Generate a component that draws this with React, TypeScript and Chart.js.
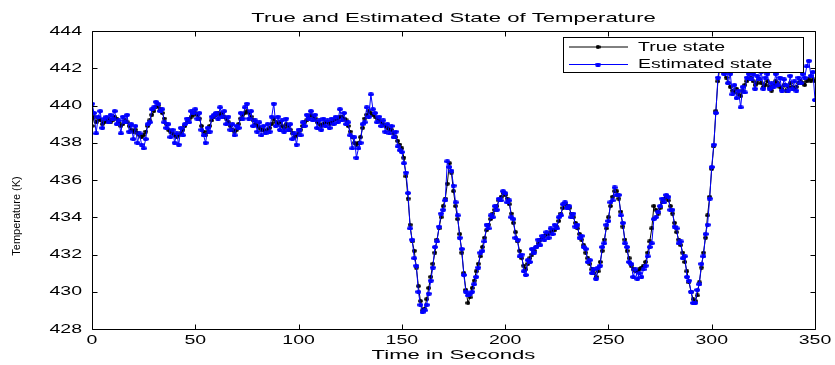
import React, { useEffect, useRef } from 'react';
import { Chart, registerables } from 'chart.js';

Chart.register(...registerables);

const TITLE = 'True and Estimated State of Temperature';
const X_LABEL = 'Time in Seconds';
const Y_LABEL = 'Temperature (K)';
const SERIES_NAMES = ['True state', 'Estimated state'];
const X_TICKS = [0, 50, 100, 150, 200, 250, 300, 350];
const Y_TICKS = [428, 430, 432, 434, 436, 438, 440, 442, 444];
const TIME_START = 0;
const TIME_STEP = 1;

const TRUE_STATE = [
  438.9, 439.4, 439.1, 439.3, 439.2, 439.0, 439.1, 439.2, 439.3, 439.1,
  439.2, 439.4, 439.3, 439.1, 438.9, 439.0, 439.2, 439.1, 438.9, 438.7,
  438.6, 438.7, 438.5, 438.4, 438.3, 438.4, 438.6, 438.9, 439.2, 439.5,
  439.7, 439.9, 440.0, 439.8, 439.6, 439.3, 439.0, 438.7, 438.6, 438.5,
  438.4, 438.3, 438.4, 438.5, 438.7, 438.9, 439.1, 439.3, 439.4, 439.5,
  439.6, 439.5, 439.3, 438.9, 438.6, 438.4, 438.6, 438.9, 439.2, 439.4,
  439.5, 439.6, 439.5, 439.6, 439.4, 439.3, 439.1, 438.9, 438.7, 438.6,
  438.7, 439.0, 439.3, 439.5, 439.6, 439.7, 439.6, 439.4, 439.2, 439.0,
  438.9, 438.8, 438.7, 438.7, 438.6, 438.7, 438.8, 439.0, 439.3, 439.1,
  439.0, 439.1, 438.9, 438.8, 439.0, 438.9, 438.7, 438.5, 438.3, 438.4,
  438.5, 438.7, 438.9, 439.1, 439.2, 439.4, 439.5, 439.4, 439.3, 439.1,
  439.0, 438.9, 439.0, 439.1, 439.1, 439.0, 439.1, 439.2, 439.3, 439.3,
  439.4, 439.4, 439.3, 439.2, 438.9, 438.6, 438.3, 438.0, 437.9, 438.0,
  438.3, 438.8, 439.3, 439.5, 439.7, 439.6, 439.5, 439.4, 439.3, 439.2,
  439.1, 439.0, 438.9, 438.8, 438.7, 438.7, 438.5, 438.3, 438.1, 437.9,
  437.7, 437.2, 436.2, 435.0, 433.6, 432.7, 432.2, 431.3, 430.3, 429.5,
  429.0, 429.1, 429.6, 430.2, 430.8, 431.5, 432.1, 432.8, 433.4, 434.0,
  434.6, 435.0, 435.8, 436.9, 436.4, 435.4, 434.6, 433.9, 433.1, 432.1,
  431.0, 430.1, 429.4, 429.7, 430.2, 430.6, 431.1, 431.5, 431.9, 432.4,
  432.9, 433.3, 433.6, 433.9, 434.2, 434.4, 434.6, 434.9, 435.1, 435.3,
  435.2, 435.0, 434.7, 434.2, 433.7, 433.2, 432.7, 432.2, 431.8, 431.4,
  431.2, 431.5, 431.8, 432.0, 432.2, 432.4, 432.6, 432.8, 432.9, 433.0,
  433.1, 433.1, 433.2, 433.3, 433.3, 433.5, 433.8, 434.2, 434.5, 434.7,
  434.6, 434.5, 434.2, 434.0, 433.7, 433.4, 433.1, 432.8, 432.5, 432.1,
  431.8, 431.5, 431.2, 431.0, 430.8, 431.1, 431.6, 432.2, 432.8, 433.4,
  434.0, 434.6, 435.1, 435.4, 435.4, 435.0, 434.3, 433.5, 432.8, 432.2,
  431.8, 431.4, 431.2, 431.1, 431.1, 431.2, 431.3, 431.4, 431.6, 432.1,
  432.7, 433.4, 434.6, 434.4, 434.2, 434.5, 434.8, 435.0, 435.1, 434.9,
  434.6, 434.2, 433.7, 433.2, 432.8, 432.5, 432.1, 431.6, 431.1, 430.5,
  430.0, 429.6, 429.5, 429.8, 430.5, 431.3, 432.1, 432.9, 434.1, 435.1,
  436.6, 437.8, 439.7, 441.3, 442.1, 442.1, 441.8, 441.5, 441.2, 441.0,
  440.8, 440.7, 440.9, 440.6, 440.5, 440.8, 441.1, 441.3, 441.4, 441.5,
  441.3, 441.1, 441.2, 441.4, 441.2, 441.0, 441.1, 441.3, 441.0, 440.8,
  441.1, 441.3, 441.2, 441.0, 440.9, 441.1, 440.8, 441.0, 441.2, 441.0,
  440.9, 441.0, 441.2, 441.3, 441.2, 441.1, 441.3, 441.4, 441.3, 441.4,
  441.3,
];

const ESTIMATED_STATE = [
  440.1, 439.6, 438.5, 439.4, 439.7, 438.8, 439.3, 439.4, 439.1, 439.5,
  439.3, 439.7, 439.0, 439.2, 438.5, 439.4, 439.1, 439.5, 438.6, 439.0,
  438.2, 438.9, 438.0, 438.5, 437.9, 437.7, 438.2, 439.0, 439.1, 439.8,
  439.9, 440.2, 440.1, 439.7, 439.8, 439.1, 438.8, 439.0, 438.3, 438.7,
  438.0, 438.5, 437.9, 438.8, 438.4, 439.0, 439.3, 439.1, 439.7, 439.6,
  439.8, 439.3, 439.6, 438.7, 438.4, 438.0, 438.8, 438.6, 439.4, 439.5,
  439.6, 439.3, 439.9, 439.4, 439.7, 439.0, 439.4, 438.7, 439.0, 438.4,
  438.9, 438.8, 439.6, 439.3, 439.9, 440.1, 439.3, 439.7, 438.9, 439.2,
  438.6, 439.1, 438.4, 438.9, 438.5, 439.0, 438.6, 439.4, 440.1, 438.9,
  439.4, 438.7, 439.2, 438.6, 439.3, 438.7, 439.0, 438.2, 438.5, 437.9,
  438.7, 438.4, 439.1, 438.9, 439.5, 439.3, 439.7, 439.2, 439.5, 438.8,
  439.2, 438.7, 439.3, 438.9, 439.2, 438.8, 439.3, 439.0, 439.4, 439.1,
  439.8, 439.2, 439.6, 439.0, 439.1, 438.4, 437.7, 438.3, 437.2, 437.7,
  438.0, 439.0, 439.1, 439.9, 439.4, 440.6, 439.8, 439.6, 439.1, 439.4,
  438.9, 439.2, 438.6, 439.0, 438.5, 438.9, 438.3, 438.6, 437.8, 437.6,
  437.5, 436.9, 436.4, 435.3, 433.4, 432.8, 431.8, 431.4, 430.0, 429.3,
  428.9, 429.0, 429.3, 429.9, 430.6, 431.3, 432.4, 432.7, 433.5, 434.2,
  434.4, 434.9, 437.0, 436.7, 436.5, 435.7, 434.8, 434.1, 432.9, 432.3,
  430.9, 430.0, 429.8, 429.9, 430.0, 430.4, 430.8, 431.3, 432.1, 432.2,
  432.7, 433.6, 433.4, 434.1, 434.0, 434.6, 434.4, 435.0, 434.9, 435.4,
  435.3, 434.8, 434.9, 434.0, 433.9, 432.9, 432.8, 431.9, 432.0, 431.1,
  430.9, 431.7, 431.6, 432.3, 432.1, 432.4, 432.8, 432.5, 433.0, 432.8,
  433.2, 432.9, 433.4, 433.1, 433.6, 433.4, 434.0, 434.1, 434.7, 434.8,
  434.5, 434.6, 434.0, 434.2, 433.5, 433.6, 432.9, 433.0, 432.4, 432.3,
  431.6, 431.7, 431.0, 431.2, 430.7, 431.3, 431.4, 432.4, 432.6, 433.6,
  433.8, 434.8, 434.9, 435.6, 435.2, 435.2, 434.1, 433.7, 432.6, 432.4,
  431.6, 431.5, 430.8, 431.2, 430.7, 431.0, 430.8, 431.2, 431.4, 431.9,
  432.4, 432.6, 433.9, 434.0, 434.3, 434.6, 435.0, 434.8, 435.2, 435.1,
  434.4, 434.4, 433.5, 433.4, 432.6, 432.7, 431.8, 431.9, 430.8, 430.6,
  430.0, 429.4, 429.4, 430.1, 430.4, 431.5, 431.9, 433.1, 433.6, 435.0,
  436.7, 437.9, 439.6, 441.5, 442.3, 442.1, 441.7, 442.0, 441.2, 441.7,
  440.6, 441.1, 440.4, 440.8, 439.9, 441.0, 440.7, 441.5, 441.7, 441.4,
  441.7, 440.9, 441.6, 441.4, 441.8, 440.9, 441.5, 441.7, 440.9, 441.2,
  441.0, 441.7, 441.1, 441.5, 440.8, 441.4, 441.1, 440.8, 441.6, 440.9,
  441.3, 440.8, 441.5, 441.2, 441.7, 441.5, 442.1, 442.4, 441.6, 441.8,
  440.3,
];

const TIME = TRUE_STATE.map((_, i) => TIME_START + i * TIME_STEP);

const FONT = '"Liberation Sans", Arial, Helvetica, sans-serif';

function makeDot(color: string, w: number, h: number) {
  const c = document.createElement('canvas');
  c.width = w;
  c.height = h;
  const g = c.getContext('2d')!;
  g.fillStyle = color;
  g.beginPath();
  g.ellipse(w / 2, h / 2, w / 2, h / 2, 0, 0, Math.PI * 2);
  g.fill();
  return c;
}

function drawText(
  ctx: CanvasRenderingContext2D,
  s: string,
  x: number,
  y: number,
  align: CanvasTextAlign,
  size: number,
  sx: number
) {
  ctx.save();
  ctx.translate(x, y);
  ctx.scale(sx, 1);
  ctx.font = `${size}px ${FONT}`;
  ctx.fillStyle = '#000';
  ctx.textAlign = align;
  ctx.textBaseline = 'middle';
  ctx.fillText(s, 0, 0);
  ctx.restore();
}

export default function App() {
  const ref = useRef<HTMLCanvasElement>(null);

  useEffect(() => {
    if (!ref.current) return;
    const blackDot = makeDot('#000000', 5, 4);
    const blueDot = makeDot('#0000ff', 6, 4);

    const decor = {
      id: 'matlabDecor',
      afterDraw(chart: any) {
        const ctx: CanvasRenderingContext2D = chart.ctx;
        const { left, right, top, bottom } = chart.chartArea;
        const xs = chart.scales.x;
        const ys = chart.scales.y;
        ctx.save();
        ctx.strokeStyle = '#000';
        ctx.lineWidth = 1;
        const L = Math.round(left) + 0.5;
        const R = Math.round(right) + 0.5;
        const T = Math.round(top) + 0.5;
        const B = Math.round(bottom) + 0.5;
        ctx.beginPath();
        ctx.rect(L, T, R - L, B - T);
        ctx.stroke();
        const tl = 5;
        ctx.beginPath();
        X_TICKS.forEach((v) => {
          const px = Math.round(xs.getPixelForValue(v)) + 0.5;
          ctx.moveTo(px, B);
          ctx.lineTo(px, B - tl);
          ctx.moveTo(px, T);
          ctx.lineTo(px, T + tl);
        });
        Y_TICKS.forEach((v) => {
          const py = Math.round(ys.getPixelForValue(v)) + 0.5;
          ctx.moveTo(L, py);
          ctx.lineTo(L + tl, py);
          ctx.moveTo(R, py);
          ctx.lineTo(R - tl, py);
        });
        ctx.stroke();

        X_TICKS.forEach((v) => {
          drawText(ctx, String(v), xs.getPixelForValue(v), bottom + 11, 'center', 13, 1.5);
        });
        Y_TICKS.forEach((v) => {
          drawText(ctx, String(v), left - 10, ys.getPixelForValue(v), 'right', 13, 1.5);
        });

        drawText(ctx, TITLE, (left + right) / 2, 18, 'center', 13, 1.7);
        drawText(ctx, X_LABEL, (left + right) / 2, 355, 'center', 13, 1.7);

        ctx.save();
        ctx.translate(17, 216);
        ctx.rotate(-Math.PI / 2);
        ctx.font = `11px ${FONT}`;
        ctx.fillStyle = '#000';
        ctx.textAlign = 'center';
        ctx.textBaseline = 'middle';
        ctx.fillText(Y_LABEL, 0, 0);
        ctx.restore();

        // legend
        const lx = 563.5, ly = 37.5, lw = 240, lh = 35;
        ctx.fillStyle = '#fff';
        ctx.fillRect(lx, ly, lw, lh);
        ctx.strokeStyle = '#000';
        ctx.strokeRect(lx, ly, lw, lh);
        const rows = [
          { name: SERIES_NAMES[0], color: '#000000', dot: blackDot, y: 47 },
          { name: SERIES_NAMES[1], color: '#0000ff', dot: blueDot, y: 64.5 },
        ];
        rows.forEach((r) => {
          ctx.strokeStyle = r.color;
          ctx.lineWidth = 1;
          ctx.beginPath();
          ctx.moveTo(569, r.y);
          ctx.lineTo(628, r.y);
          ctx.stroke();
          ctx.drawImage(r.dot, 598 - r.dot.width / 2, r.y - r.dot.height / 2);
          drawText(ctx, r.name, 638, r.y, 'left', 13, 1.5);
        });
        ctx.restore();
      },
    };

    const chart = new Chart(ref.current, {
      type: 'line',
      data: {
        labels: TIME,
        datasets: [
          {
            label: SERIES_NAMES[1],
            data: ESTIMATED_STATE,
            borderColor: '#0000ff',
            backgroundColor: '#0000ff',
            borderWidth: 1,
            pointStyle: blueDot as any,
            pointRadius: 3,
            tension: 0,
            order: 0,
          },
          {
            label: SERIES_NAMES[0],
            data: TRUE_STATE,
            borderColor: '#000000',
            backgroundColor: '#000000',
            borderWidth: 1,
            pointStyle: blackDot as any,
            pointRadius: 3,
            tension: 0,
            order: 1,
          },
        ],
      },
      options: {
        animation: false,
        responsive: false,
        events: [],
        layout: { padding: { left: 92, right: 20, top: 31, bottom: 36 } },
        scales: {
          x: { type: 'linear', min: 0, max: 350, display: false },
          y: { type: 'linear', min: 428, max: 444, display: false },
        },
        plugins: {
          legend: { display: false },
          tooltip: { enabled: false },
          title: { display: false },
        },
      },
      plugins: [decor],
    });
    return () => chart.destroy();
  }, []);

  return (
    <div style={{ position: 'fixed', left: 0, top: 0, width: 835, height: 365, background: '#fff' }}>
      <canvas ref={ref} width={835} height={365} style={{ display: 'block', width: 835, height: 365 }} />
    </div>
  );
}
